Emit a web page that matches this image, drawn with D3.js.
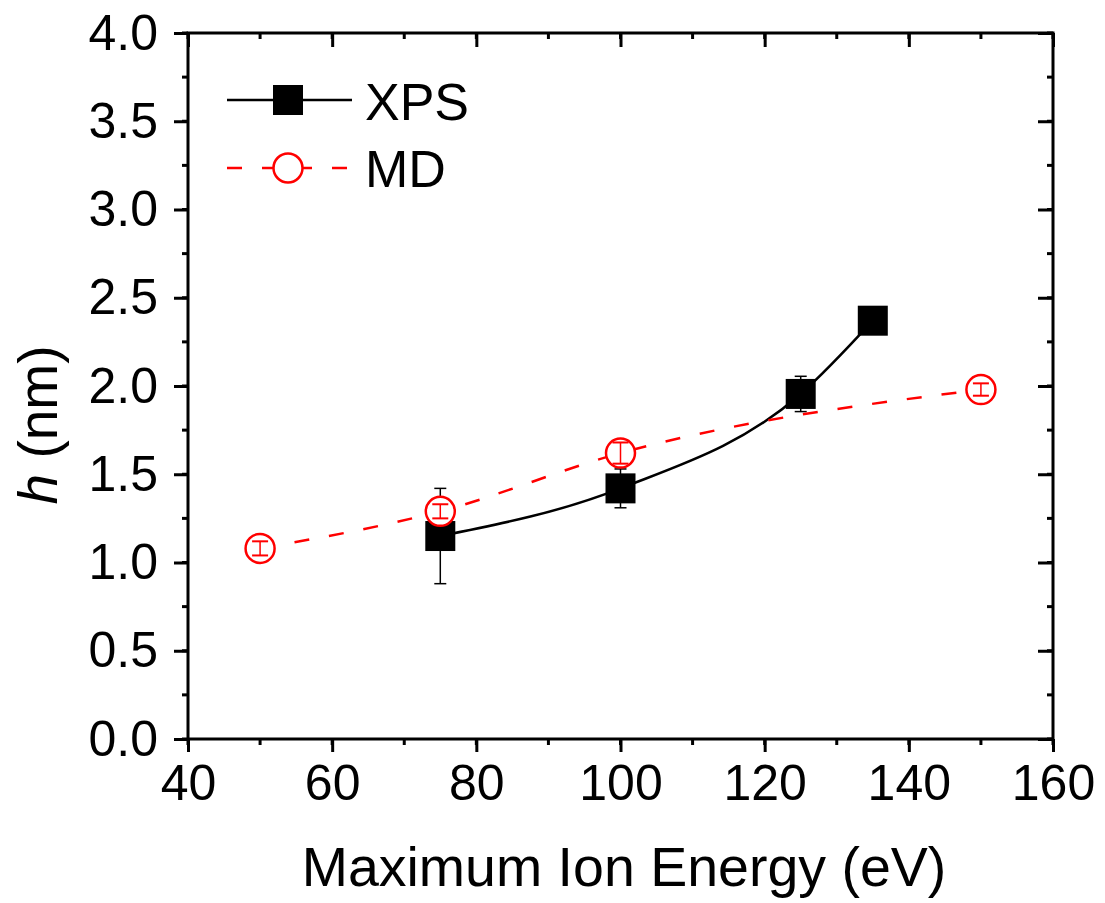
<!DOCTYPE html>
<html>
<head>
<meta charset="utf-8">
<script src="https://cdn.jsdelivr.net/npm/d3@7"></script>
<style>
  body { margin: 0; background: #fff; }
  text { font-family: "Liberation Sans", Arial, sans-serif; fill: #000; }
</style>
</head>
<body>
<script>
// XPS measurements
const xpsEnergy = [75, 100, 125, 135];
const xpsH = [1.15, 1.42, 1.955, 2.37];
const xpsErr = [0.27, 0.11, 0.10, 0];

// MD simulation
const mdEnergy = [50, 75, 100, 150];
const mdH = [1.08, 1.29, 1.62, 1.98];
const mdErr = [0.04, 0.04, 0.06, 0.035];

const xTicks = [40, 60, 80, 100, 120, 140, 160];
const yTicks = [0, 0.5, 1.0, 1.5, 2.0, 2.5, 3.0, 3.5, 4.0];

const W = 1105, H = 903;
const pLeft = 188, pRight = 1053, pTop = 33, pBottom = 739;

const svg = d3.select('body').append('svg')
  .attr('width', W)
  .attr('height', H);

const x = d3.scaleLinear().domain([40, 160]).range([pLeft, pRight]);
const y = d3.scaleLinear().domain([0, 4]).range([pBottom, pTop]);

const xMinor = d3.range(40, 161, 10);
const yMinor = d3.range(0, 4.001, 0.25);

// minor ticks (outward on bottom/left, inward on top/right)
svg.append('g').selectAll('line').data(xMinor).join('line')
  .attr('x1', d => x(d)).attr('x2', d => x(d))
  .attr('y1', pBottom).attr('y2', pBottom + 6)
  .attr('stroke', '#000').attr('stroke-width', 3);
svg.append('g').selectAll('line').data(xMinor).join('line')
  .attr('x1', d => x(d)).attr('x2', d => x(d))
  .attr('y1', pTop).attr('y2', pTop + 6)
  .attr('stroke', '#000').attr('stroke-width', 3);
svg.append('g').selectAll('line').data(yMinor).join('line')
  .attr('x1', pLeft - 6).attr('x2', pLeft)
  .attr('y1', d => y(d)).attr('y2', d => y(d))
  .attr('stroke', '#000').attr('stroke-width', 3);
svg.append('g').selectAll('line').data(yMinor).join('line')
  .attr('x1', pRight - 6).attr('x2', pRight)
  .attr('y1', d => y(d)).attr('y2', d => y(d))
  .attr('stroke', '#000').attr('stroke-width', 3);

// major ticks via d3 axes
svg.append('g')
  .attr('transform', `translate(0, ${pBottom})`)
  .call(d3.axisBottom(x).tickValues(xTicks).tickSize(13).tickPadding(12).tickFormat(d3.format('d')));
svg.append('g')
  .attr('transform', `translate(${pLeft}, 0)`)
  .call(d3.axisLeft(y).tickValues(yTicks).tickSize(14).tickPadding(16).tickFormat(d3.format('.1f')));
svg.append('g')
  .attr('transform', `translate(0, ${pTop})`)
  .call(d3.axisBottom(x).tickValues(xTicks).tickSize(14).tickFormat(''));
svg.append('g')
  .attr('transform', `translate(${pRight}, 0)`)
  .call(d3.axisLeft(y).tickValues(yTicks).tickSize(15).tickFormat(''));

svg.selectAll('.domain').remove();
svg.selectAll('.tick line').attr('stroke', '#000').attr('stroke-width', 3);
svg.selectAll('.tick text')
  .style('font-family', '"Liberation Sans", Arial, sans-serif')
  .style('font-size', '50px')
  .attr('fill', '#000');

// frame
svg.append('rect')
  .attr('x', pLeft).attr('y', pTop)
  .attr('width', pRight - pLeft).attr('height', pBottom - pTop)
  .attr('fill', 'none').attr('stroke', '#000').attr('stroke-width', 3);

const xpsData = xpsEnergy.map((e, i) => ({ e, h: xpsH[i], err: xpsErr[i] }));
const mdData = mdEnergy.map((e, i) => ({ e, h: mdH[i], err: mdErr[i] }));

const line = d3.line().x(d => x(d.e)).y(d => y(d.h)).curve(d3.curveMonotoneX);

// XPS series
svg.append('path').datum(xpsData)
  .attr('d', line)
  .attr('fill', 'none').attr('stroke', '#000').attr('stroke-width', 2.5);

const xpsErrG = svg.append('g').selectAll('g').data(xpsData.filter(d => d.err > 0)).join('g');
xpsErrG.append('line')
  .attr('x1', d => x(d.e)).attr('x2', d => x(d.e))
  .attr('y1', d => y(d.h - d.err)).attr('y2', d => y(d.h + d.err))
  .attr('stroke', '#000').attr('stroke-width', 1.5);
xpsErrG.selectAll('line.cap').data(d => [{ e: d.e, v: d.h - d.err }, { e: d.e, v: d.h + d.err }]).join('line')
  .attr('class', 'cap')
  .attr('x1', d => x(d.e) - 6).attr('x2', d => x(d.e) + 6)
  .attr('y1', d => y(d.v)).attr('y2', d => y(d.v))
  .attr('stroke', '#000').attr('stroke-width', 1.5);

const sq = 30;
svg.append('g').selectAll('rect').data(xpsData).join('rect')
  .attr('x', d => x(d.e) - sq / 2).attr('y', d => y(d.h) - sq / 2)
  .attr('width', sq).attr('height', sq)
  .attr('fill', '#000');

// MD series
svg.append('path').datum(mdData)
  .attr('d', line)
  .attr('fill', 'none').attr('stroke', '#ff0000').attr('stroke-width', 2.5)
  .attr('stroke-dasharray', '15,20');

svg.append('g').selectAll('circle').data(mdData).join('circle')
  .attr('cx', d => x(d.e)).attr('cy', d => y(d.h)).attr('r', 14.5)
  .attr('fill', '#fff').attr('stroke', '#ff0000').attr('stroke-width', 2.5);

const mdErrG = svg.append('g').selectAll('g').data(mdData).join('g');
mdErrG.append('line')
  .attr('x1', d => x(d.e)).attr('x2', d => x(d.e))
  .attr('y1', d => y(d.h - d.err)).attr('y2', d => y(d.h + d.err))
  .attr('stroke', '#ff0000').attr('stroke-width', 1.5);
mdErrG.selectAll('line.cap').data(d => [{ e: d.e, v: d.h - d.err }, { e: d.e, v: d.h + d.err }]).join('line')
  .attr('class', 'cap')
  .attr('x1', d => x(d.e) - 8).attr('x2', d => x(d.e) + 8)
  .attr('y1', d => y(d.v)).attr('y2', d => y(d.v))
  .attr('stroke', '#ff0000').attr('stroke-width', 2);

// legend
const lg = svg.append('g');
lg.append('line').attr('x1', 227).attr('x2', 352).attr('y1', 100).attr('y2', 100)
  .attr('stroke', '#000').attr('stroke-width', 2.5);
lg.append('rect').attr('x', 288 - sq / 2).attr('y', 100 - sq / 2).attr('width', sq).attr('height', sq)
  .attr('fill', '#000');
lg.append('text').attr('x', 365).attr('y', 120).style('font-size', '52px').text('XPS');

lg.append('line').attr('x1', 227).attr('x2', 352).attr('y1', 168).attr('y2', 168)
  .attr('stroke', '#ff0000').attr('stroke-width', 2.5).attr('stroke-dasharray', '15,20');
lg.append('circle').attr('cx', 288).attr('cy', 168).attr('r', 14.5)
  .attr('fill', '#fff').attr('stroke', '#ff0000').attr('stroke-width', 2.5);
lg.append('text').attr('x', 365).attr('y', 187).style('font-size', '52px').text('MD');

// axis titles
svg.append('text')
  .attr('x', 624).attr('y', 886)
  .attr('text-anchor', 'middle')
  .style('font-size', '55.5px')
  .text('Maximum Ion Energy (eV)');

const yt = svg.append('text')
  .attr('transform', 'translate(57, 425) rotate(-90)')
  .attr('text-anchor', 'middle')
  .style('font-size', '55px');
yt.append('tspan').style('font-style', 'italic').text('h');
yt.append('tspan').text(' (nm)');
</script>
</body>
</html>
